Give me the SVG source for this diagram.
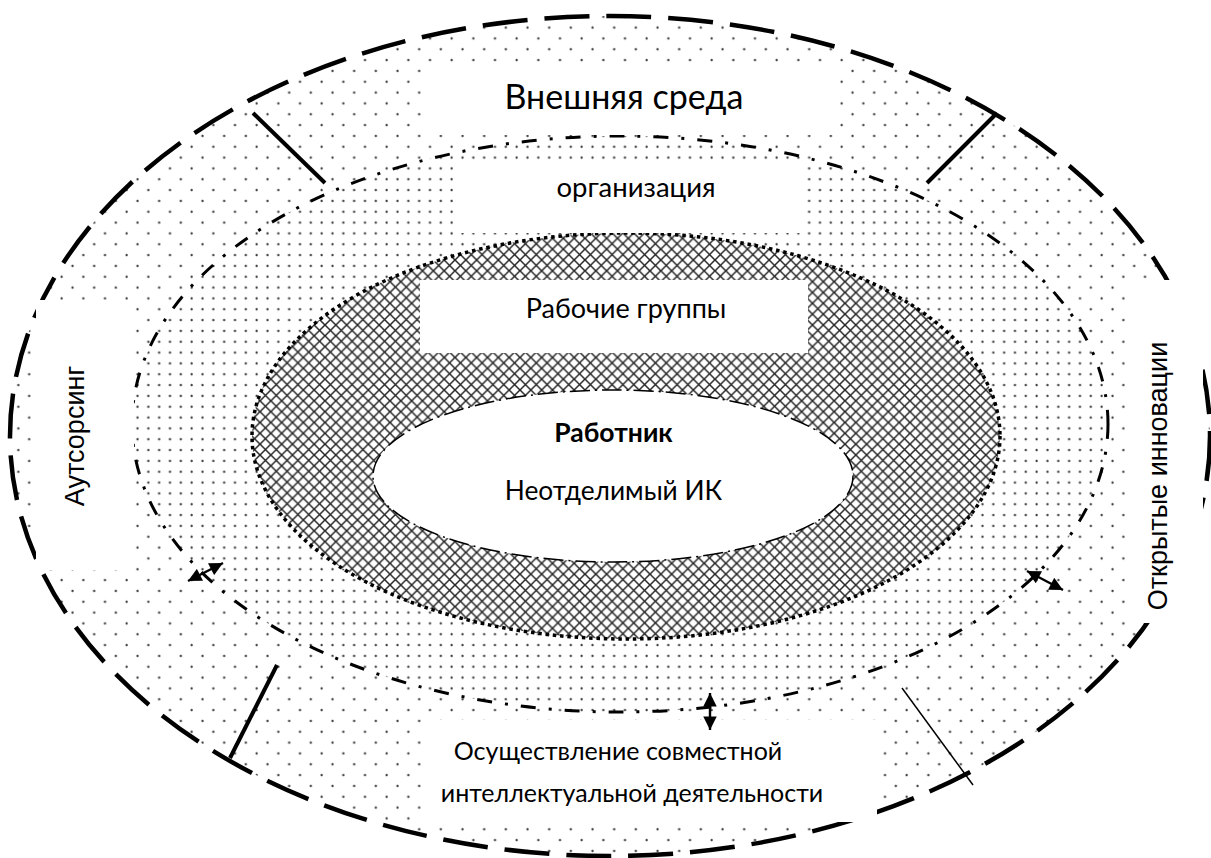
<svg xmlns="http://www.w3.org/2000/svg" width="1211" height="858" viewBox="0 0 1211 858">
<defs>
<pattern id="sparse" patternUnits="userSpaceOnUse" width="21.667" height="21.667">
<circle cx="7.5" cy="5.9" r="1.15" fill="#3a3a3a"/>
<circle cx="18.33" cy="16.73" r="1.15" fill="#3a3a3a"/>
</pattern>
<pattern id="dense" patternUnits="userSpaceOnUse" width="10.833" height="10.833">
<circle cx="7.5" cy="5.9" r="1.15" fill="#3a3a3a"/>
</pattern>
<pattern id="hatch" patternUnits="userSpaceOnUse" width="10.833" height="10.833">
<path d="M0 0L10.833 10.833M10.833 0L0 10.833" stroke="#262626" stroke-width="1.5" fill="none"/>
</pattern>
<marker id="ah" viewBox="0 0 10 10" refX="10" refY="5" markerWidth="6" markerHeight="5.6" markerUnits="strokeWidth" orient="auto-start-reverse">
<path d="M0 0L10 5L0 10z" fill="#000"/>
</marker>
</defs>
<style>
.box{fill:#fff;stroke:none}
.cal{font-family:Lato,"Open Sans","Noto Sans",sans-serif;fill:#000;text-anchor:middle}
.ari{font-family:"Liberation Sans",Arial,sans-serif;fill:#000;text-anchor:middle}
.sep{stroke:#000;stroke-width:4;fill:none}
.arr{stroke:#000;stroke-width:2.4;fill:none;marker-start:url(#ah);marker-end:url(#ah)}
</style>
<rect width="1211" height="858" fill="#fff"/>

<g id="outer">
<ellipse cx="610" cy="436" rx="600" ry="420" fill="url(#sparse)"/>
</g>
<g id="organization">
<ellipse cx="620" cy="424" rx="488" ry="288" fill="#fff"/>
<ellipse cx="620" cy="424" rx="488" ry="288" fill="url(#dense)"/>
</g>
<g id="workgroups">
<ellipse cx="626" cy="436" rx="374" ry="203" fill="#fff"/>
<ellipse cx="626" cy="436" rx="374" ry="203" fill="url(#hatch)"/>
</g>
<g id="worker">
<ellipse cx="613" cy="476" rx="240" ry="86" fill="#fff" stroke="#000" stroke-width="1.5" stroke-dasharray="20 5 2 5"/>
</g>

<g id="outlines">
<ellipse cx="610" cy="436" rx="600" ry="420" fill="none" stroke="#000" stroke-width="4.5" stroke-dasharray="45 17"/>
<ellipse cx="620" cy="424" rx="488" ry="288" fill="none" stroke="#000" stroke-width="3" stroke-dasharray="15 13 3 13"/>
<ellipse cx="626" cy="436" rx="374" ry="203" fill="none" stroke="#000" stroke-width="3.5" stroke-dasharray="3.5 3.8"/>
</g>

<g id="label-outer">
<rect class="box" x="425" y="62" width="408" height="73"/>
<text class="cal" x="624" y="109" font-size="34">Внешняя среда</text>
</g>
<g id="label-org">
<rect class="box" x="460" y="160" width="347" height="73"/>
<text class="cal" x="636" y="197" font-size="27.5">организация</text>
</g>
<g id="label-wg">
<rect class="box" x="420" y="280" width="388" height="73"/>
<text class="cal" x="626" y="318" font-size="27">Рабочие группы</text>
</g>
<g id="label-worker">
<text class="cal" x="613.5" y="442" font-size="26.5" font-weight="bold">Работник</text>
<text class="cal" x="613.5" y="500" font-size="26.3">Неотделимый ИК</text>
</g>
<g id="label-outsourcing">
<rect class="box" x="36" y="300" width="98" height="270"/>
<text class="ari" transform="translate(84 436) rotate(-90)" font-size="27">Аутсорсинг</text>
</g>
<g id="label-open">
<rect class="box" x="1132" y="280" width="71" height="343"/>
<text class="ari" transform="translate(1167 476) rotate(-90)" font-size="27">Открытые инновации</text>
</g>
<g id="label-joint">
<rect class="box" x="422" y="720" width="455" height="102"/>
<text class="cal" x="618" y="760" font-size="25">Осуществление совместной</text>
<text class="cal" x="632" y="802" font-size="25">интеллектуальной деятельности</text>
</g>

<g id="connectors">
<line class="sep" x1="253" y1="113" x2="325" y2="183"/>
<line class="sep" x1="997" y1="113" x2="927" y2="183"/>
<line class="sep" x1="277" y1="665" x2="230" y2="758"/>
<line x1="902" y1="688" x2="973" y2="785" stroke="#000" stroke-width="1.5"/>
<line class="arr" x1="188" y1="581" x2="223" y2="563"/>
<line class="arr" x1="710" y1="693" x2="710" y2="730"/>
<line class="arr" x1="1027" y1="571" x2="1063" y2="590"/>
</g>
</svg>
